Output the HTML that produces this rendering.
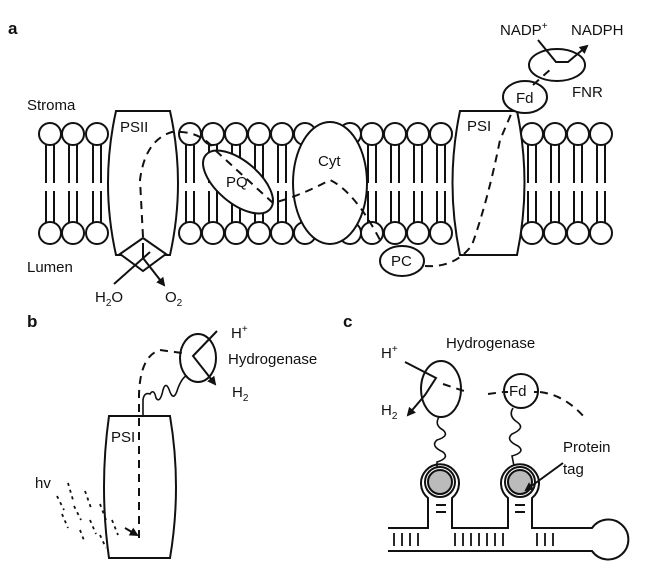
<!DOCTYPE html>
<html><head><style>body{margin:0;background:#fff}svg{display:block}text{font-family:"Liberation Sans",sans-serif;fill:#111}</style></head><body>
<svg width="657" height="586" viewBox="0 0 657 586" xmlns="http://www.w3.org/2000/svg" stroke="#111" stroke-width="2" fill="none">
<defs>
<g id="lip">
<line x1="-4" y1="134" x2="-4" y2="183"/><line x1="4" y1="134" x2="4" y2="183"/>
<line x1="-4" y1="191" x2="-4" y2="233"/><line x1="4" y1="191" x2="4" y2="233"/>
<circle cx="0" cy="134" r="11" fill="#fff"/><circle cx="0" cy="233" r="11" fill="#fff"/>
</g>
<marker id="ar" markerWidth="9" markerHeight="9" refX="7" refY="4.5" orient="auto" markerUnits="userSpaceOnUse"><path d="M0,0 L9,4.5 L0,9 Z" fill="#111" stroke="none"/></marker>
</defs>
<text x="8" y="34" font-weight="bold" font-size="17" stroke="none">a</text>
<text x="27" y="110" font-size="15" stroke="none">Stroma</text>
<text x="27" y="272" font-size="15" stroke="none">Lumen</text>
<g>
<use href="#lip" x="50"/><use href="#lip" x="73"/><use href="#lip" x="97"/>
<use href="#lip" x="190"/><use href="#lip" x="213"/><use href="#lip" x="236"/><use href="#lip" x="259"/><use href="#lip" x="282"/><use href="#lip" x="305"/>
<use href="#lip" x="350"/><use href="#lip" x="372"/><use href="#lip" x="395"/><use href="#lip" x="418"/><use href="#lip" x="441"/>
<use href="#lip" x="532"/><use href="#lip" x="555"/><use href="#lip" x="578"/><use href="#lip" x="601"/>
</g>
<path d="M116,111 L170,111 Q186,183 170,255 L116,255 Q100,183 116,111 Z" fill="#fff"/>
<text x="120" y="132" font-size="15" stroke="none">PSII</text>
<path d="M120,254 L143,238 L166,254 L143,271 Z" fill="#fff"/>
<line x1="114" y1="284" x2="150" y2="252"/>
<path d="M143,243 L143,258 L164,285" marker-end="url(#ar)"/>
<text x="95" y="302" font-size="15" stroke="none">H<tspan font-size="10" dy="4">2</tspan><tspan dy="-4">O</tspan></text>
<text x="165" y="302" font-size="15" stroke="none">O<tspan font-size="10" dy="4">2</tspan></text>
<ellipse cx="238" cy="182" rx="42" ry="21" transform="rotate(40 238 182)" fill="#fff"/>
<text x="226" y="187" font-size="15" stroke="none">PQ</text>
<ellipse cx="330" cy="183" rx="37" ry="61" fill="#fff"/>
<text x="318" y="166" font-size="15" stroke="none">Cyt</text>
<path d="M460,111 L517,111 Q532,183 517,255 L460,255 Q445,183 460,111 Z" fill="#fff"/>
<text x="467" y="131" font-size="15" stroke="none">PSI</text>
<ellipse cx="402" cy="261" rx="22" ry="15" fill="#fff"/>
<text x="391" y="266" font-size="15" stroke="none">PC</text>
<ellipse cx="525" cy="97" rx="22" ry="16" fill="#fff"/>
<text x="516" y="103" font-size="15" stroke="none">Fd</text>
<ellipse cx="557" cy="65" rx="28" ry="16" fill="#fff"/>
<text x="572" y="97" font-size="15" stroke="none">FNR</text>
<text x="500" y="35" font-size="15" stroke="none">NADP<tspan font-size="10" dy="-6">+</tspan></text>
<text x="571" y="35" font-size="15" stroke="none">NADPH</text>
<path d="M538,40 L556,62 L568,62 L587,46" marker-end="url(#ar)"/>
<path d="M143,237 L140,180 Q145,140 172,132 Q200,130 215,150 L273,203 Q300,196 330,180 Q355,192 380,240 M425,266 Q455,268 472,245 Q488,200 500,140 L512,112 M533,85 L552,68" stroke-dasharray="8,6"/>
<text x="27" y="327" font-weight="bold" font-size="17" stroke="none">b</text>
<path d="M109,416 L170,416 Q182,487 170,558 L109,558 Q99,487 109,416 Z" fill="#fff"/>
<text x="111" y="442" font-size="15" stroke="none">PSI</text>
<ellipse cx="198" cy="358" rx="18" ry="24" fill="#fff"/>
<path d="M143,416 L143,400 Q144,392 150,394 Q154,388 156,398 Q160,404 163,390 Q166,380 170,392 Q174,402 178,388 Q182,378 186,376" stroke-width="1.6"/>
<path d="M139,538 L139,395 Q140,356 160,350 L182,353" stroke-dasharray="8,6"/>
<path d="M125,528 L137,535" marker-end="url(#ar)"/>
<path d="M217,331 L193,356 L215,384" marker-end="url(#ar)"/>
<text x="231" y="338" font-size="15" stroke="none">H<tspan font-size="10" dy="-6">+</tspan></text>
<text x="228" y="364" font-size="15" stroke="none">Hydrogenase</text>
<text x="232" y="397" font-size="15" stroke="none">H<tspan font-size="10" dy="4">2</tspan></text>
<text x="35" y="488" font-size="15" stroke="none">hv</text>
<g stroke-dasharray="3,4" stroke-width="1.8"><path d="M68,483 L73,500 M57,496 L64,510 M85,491 L91,508 M74,506 L81,520 M62,514 L68,528 M100,504 L106,520 M90,520 L96,534 M80,530 L85,543 M112,520 L118,535 M100,535 L106,548"/></g>
<text x="343" y="327" font-weight="bold" font-size="17" stroke="none">c</text>
<text x="446" y="348" font-size="15" stroke="none">Hydrogenase</text>
<text x="381" y="358" font-size="15" stroke="none">H<tspan font-size="10" dy="-6">+</tspan></text>
<text x="381" y="415" font-size="15" stroke="none">H<tspan font-size="10" dy="4">2</tspan></text>
<text x="563" y="452" font-size="15" stroke="none">Protein</text>
<text x="563" y="474" font-size="15" stroke="none">tag</text>
<ellipse cx="441" cy="389" rx="20" ry="28" fill="#fff"/>
<circle cx="521" cy="391" r="17" fill="#fff"/>
<text x="509" y="396" font-size="15" stroke="none">Fd</text>
<path d="M443,384 L467,392 M488,394 L503,392 M540,392 Q565,395 585,418 M504,392 L508,392 M534,392 L538,392" stroke-dasharray="8,6"/>
<path d="M405,362 L436,378 L425,395 L408,415" marker-end="url(#ar)"/>
<path d="M439,417 Q434,425 443,430 Q450,436 437,440 Q430,446 443,452 Q450,458 437,462 L437,470" stroke-width="1.6"/>
<path d="M513,408 Q508,416 517,422 Q526,428 512,434 Q505,440 518,446 Q526,452 512,456 L514,466" stroke-width="1.6"/>
<path d="M388,528 L428,528 L428,498 A19,19 0 1 1 452,498 L452,528 L508,528 L508,498 A19,19 0 1 1 532,498 L532,528 L592,528 A20,20 0 1 1 592,551 L388,551"/>
<circle cx="440" cy="482" r="15" fill="#fff"/><circle cx="440" cy="482" r="12" fill="#bbb"/>
<circle cx="520" cy="482" r="15" fill="#fff"/><circle cx="520" cy="482" r="12" fill="#bbb"/>
<line x1="436" y1="505" x2="446" y2="505"/><line x1="436" y1="512" x2="446" y2="512"/>
<line x1="515" y1="505" x2="525" y2="505"/><line x1="515" y1="512" x2="525" y2="512"/>
<g stroke-width="1.8"><path d="M394,533V546M402,533V546M410,533V546M418,533V546M455,533V546M463,533V546M471,533V546M479,533V546M487,533V546M495,533V546M503,533V546M537,533V546M545,533V546M553,533V546"/></g>
<path d="M563,463 L526,490" marker-end="url(#ar)"/>
</svg>
</body></html>
